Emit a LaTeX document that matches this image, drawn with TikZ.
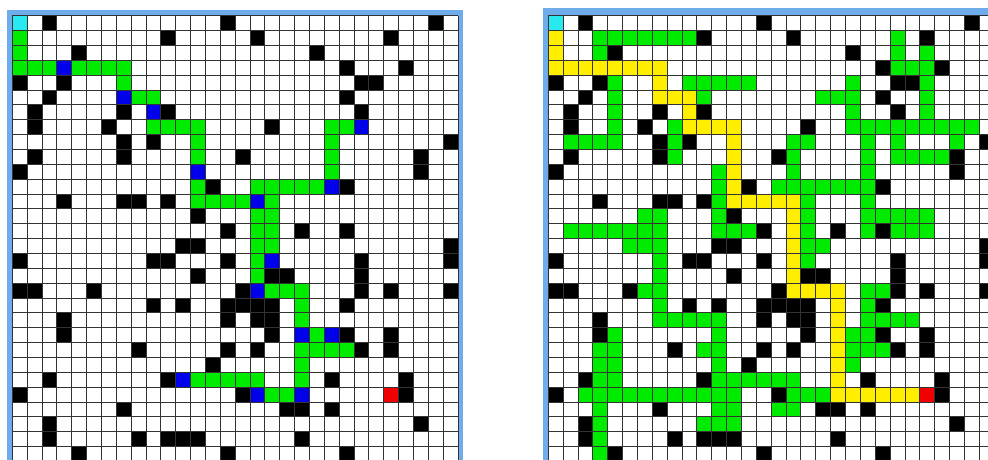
\documentclass[tikz,border=0pt]{standalone}
\usepackage{tikz}

\definecolor{framecol}{RGB}{110,172,235}
\definecolor{startcol}{RGB}{40,232,240}
\definecolor{pathgreen}{RGB}{0,235,0}
\definecolor{nodeblue}{RGB}{0,0,235}
\definecolor{routeyellow}{RGB}{255,238,0}
\definecolor{goalred}{RGB}{240,0,0}

\newcommand{\cellsz}{14.86}
% runs of cells: first col / last col / row
\newcommand{\runs}[2]{\foreach \a/\b/\r in #2 {%
  \fill[#1] (\a*\cellsz,\r*\cellsz) rectangle ({(\b+1)*\cellsz},{(\r+1)*\cellsz});}}

% obstacles (same map in both panels)
\newcommand{\walls}{2/2/0, 14/14/0, 28/28/0,
  10/10/1, 16/16/1, 25/25/1, 4/4/2, 20/20/2, 22/22/3, 26/26/3,
  0/0/4, 3/3/4, 23/24/4, 2/2/5, 22/22/5,
  1/1/6, 7/7/6, 10/10/6, 23/23/6, 1/1/7, 6/6/7, 17/17/7,
  7/7/8, 9/9/8, 29/29/8, 1/1/9, 7/7/9, 15/15/9, 27/27/9,
  0/0/10, 27/27/10, 13/13/11, 22/22/11, 3/3/12, 7/8/12, 10/10/12,
  12/12/13, 14/14/14, 19/19/14, 22/22/14, 11/12/15, 29/29/15,
  0/0/16, 9/10/16, 14/14/16, 23/23/16, 29/29/16,
  12/12/17, 17/18/17, 23/23/17,
  0/1/18, 5/5/18, 15/15/18, 23/23/18, 25/25/18, 29/29/18,
  9/9/19, 11/11/19, 14/17/19, 22/22/19, 3/3/20, 14/14/20, 16/17/20,
  3/3/21, 17/17/21, 22/22/21, 25/25/21,
  8/8/22, 14/14/22, 16/16/22, 23/23/22, 25/25/22, 13/13/23,
  2/2/24, 10/10/24, 21/21/24, 26/26/24, 0/0/25, 15/15/25, 26/26/25,
  7/7/26, 18/19/26, 21/21/26, 2/2/27, 27/27/27,
  2/2/28, 8/8/28, 10/12/28, 19/19/28, 4/4/29, 14/14/29, 22/22/29}

% left panel
\newcommand{\leftgreen}{0/0/1, 0/0/2, 0/2/3, 4/7/3, 7/7/4, 8/9/5,
  9/12/7, 21/22/7, 12/12/8, 21/21/8, 12/12/9, 21/21/9, 21/21/10,
  12/12/11, 16/20/11, 12/15/12, 17/17/12, 16/17/13, 16/17/14, 16/17/15,
  16/16/16, 16/16/17, 17/19/18, 19/19/19, 19/19/20, 20/20/21,
  19/22/22, 19/19/23, 12/16/24, 19/19/24, 17/18/25}
\newcommand{\leftblue}{3/3/3, 7/7/5, 9/9/6, 23/23/7, 12/12/10, 21/21/11,
  16/16/12, 17/17/16, 16/16/18, 19/19/21, 21/21/21, 11/11/24,
  16/16/25, 19/19/25}

% right panel
\newcommand{\rightroute}{0/0/1, 0/0/2, 0/7/3, 7/7/4, 7/9/5, 9/9/6, 9/12/7,
  12/12/8, 12/12/9, 12/12/10, 12/12/11, 12/16/12, 16/16/13, 16/16/14,
  16/16/15, 16/16/16, 16/16/17, 16/19/18, 19/19/19, 19/19/20, 19/19/21,
  19/19/22, 19/19/23, 19/19/24, 19/24/25}
\newcommand{\rightgreen}{3/9/1, 23/23/1, 3/3/2, 23/23/2, 25/25/2, 23/25/3,
  4/4/4, 9/13/4, 20/20/4, 25/25/4, 4/4/5, 10/10/5, 18/20/5, 25/25/5,
  4/4/6, 20/20/6, 25/25/6, 4/4/7, 8/8/7, 20/28/7,
  1/4/8, 8/8/8, 16/17/8, 21/21/8, 23/23/8, 27/27/8,
  8/8/9, 16/16/9, 21/21/9, 23/26/9, 11/11/10, 16/16/10, 21/21/10,
  11/11/11, 15/21/11, 11/11/12, 17/17/12, 21/21/12,
  6/7/13, 11/11/13, 17/17/13, 21/25/13,
  1/7/14, 11/13/14, 17/17/14, 21/21/14, 23/25/14,
  5/7/15, 17/18/15, 7/7/16, 17/17/16, 7/7/17,
  6/7/18, 21/22/18, 7/7/19, 21/21/19, 7/11/20, 21/24/20,
  4/4/21, 11/11/21, 20/21/21, 3/4/22, 10/11/22, 20/22/22,
  3/4/23, 11/11/23, 20/20/23, 3/4/24, 11/16/24,
  2/12/25, 16/18/25, 3/3/26, 11/12/26, 15/16/26,
  3/3/27, 10/12/27, 3/3/28, 3/3/29}

\begin{document}
\begin{tikzpicture}[x=1pt, y=-1pt,
  frame/.style={fill=framecol},
  wall/.style={fill=black},
  visited/.style={fill=pathgreen},
  turn/.style={fill=nodeblue},
  route/.style={fill=routeyellow},
  start/.style={fill=startcol},
  goal/.style={fill=goalred},
  gridline/.style={draw=black!80, line width=0.9pt},
]
\useasboundingbox (0,0) rectangle (988,459);
\clip (0,0) rectangle (988,459);

% ---------- Left panel ----------
\fill[frame] (6.5,10) rectangle (463,470);
\begin{scope}[shift={(12.3,15.7)}]
  \fill[white] (0,0) rectangle (30*\cellsz,30*\cellsz);
  \runs{wall}{\walls}
  \runs{visited}{\leftgreen}
  \runs{turn}{\leftblue}
  \fill[start] (0,0) rectangle (\cellsz,\cellsz);
  \fill[goal] (25*\cellsz,25*\cellsz) rectangle (26*\cellsz,26*\cellsz);
  \foreach \i in {0,...,30} {
    \draw[gridline] (\i*\cellsz,0) -- (\i*\cellsz,30*\cellsz);
    \draw[gridline] (0,\i*\cellsz) -- (30*\cellsz,\i*\cellsz);
  }
\end{scope}

% ---------- Right panel ----------
\fill[frame] (543,7.5) rectangle (1000,470);
\begin{scope}[shift={(548.3,15.7)}]
  \fill[white] (0,0) rectangle (30*\cellsz,30*\cellsz);
  \runs{wall}{\walls}
  \runs{visited}{\rightgreen}
  \runs{route}{\rightroute}
  \fill[start] (0,0) rectangle (\cellsz,\cellsz);
  \fill[goal] (25*\cellsz,25*\cellsz) rectangle (26*\cellsz,26*\cellsz);
  \foreach \i in {0,...,30} {
    \draw[gridline] (\i*\cellsz,0) -- (\i*\cellsz,30*\cellsz);
    \draw[gridline] (0,\i*\cellsz) -- (30*\cellsz,\i*\cellsz);
  }
\end{scope}

\end{tikzpicture}
\end{document}
